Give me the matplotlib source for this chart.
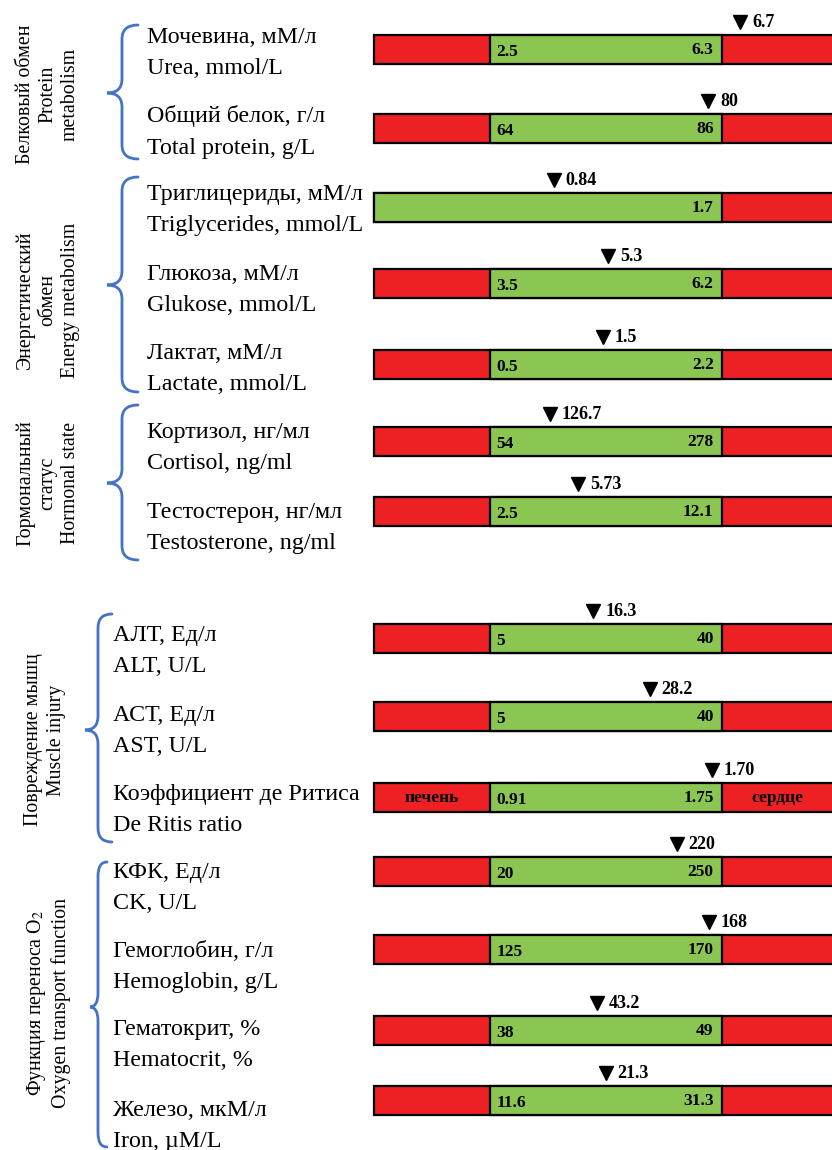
import matplotlib
matplotlib.use('Agg')
import matplotlib.pyplot as plt
from matplotlib.path import Path
from matplotlib.patches import PathPatch

plt.rcParams['font.family'] = ['Liberation Serif', 'DejaVu Serif']
plt.rcParams['mathtext.fontset'] = 'stix'

# ---------------- data ----------------
names_ru = ['Мочевина, мМ/л', 'Общий белок, г/л', 'Триглицериды, мМ/л', 'Глюкоза, мМ/л',
            'Лактат, мМ/л', 'Кортизол, нг/мл', 'Тестостерон, нг/мл',
            'АЛТ, Ед/л', 'АСТ, Ед/л', 'Коэффициент де Ритиса', 'КФК, Ед/л',
            'Гемоглобин, г/л', 'Гематокрит, %', 'Железо, мкМ/л']
names_en = ['Urea, mmol/L', 'Total protein, g/L', 'Triglycerides, mmol/L', 'Glukose, mmol/L',
            'Lactate, mmol/L', 'Cortisol, ng/ml', 'Testosterone, ng/ml',
            'ALT, U/L', 'AST, U/L', 'De Ritis ratio', 'CK, U/L',
            'Hemoglobin, g/L', 'Hematocrit, %', 'Iron, µM/L']
low_labels = ['2.5', '64', None, '3.5', '0.5', '54', '2.5',
              '5', '5', '0.91', '20', '125', '38', '11.6']
high_labels = ['6.3', '86', '1.7', '6.2', '2.2', '278', '12.1',
               '40', '40', '1.75', '250', '170', '49', '31.3']
measured_labels = ['6.7', '80', '0.84', '5.3', '1.5', '126.7', '5.73',
                   '16.3', '28.2', '1.70', '220', '168', '43.2', '21.3']
# position of measured value relative to the normal range (0 = lower limit, 1 = upper limit)
measured_rel = [1.078, 0.94, 0.276, 0.509, 0.487, 0.259, 0.379,
                0.446, 0.688, 0.957, 0.805, 0.944, 0.463, 0.498]
side_left_text = {9: 'печень'}
side_right_text = {9: 'сердце'}

group_labels = ['Белковый обмен\nProtein\nmetabolism',
                'Энергетический\nобмен\nEnergy metabolism',
                'Гормональный\nстатус\nHormonal state',
                'Повреждение мышц\nMuscle injury',
                'Функция переноса O$_2$\nOxygen transport function']

# ---------------- layout (pixels) ----------------
W, H = 832, 1150
bar_y = [49, 128, 207, 283, 364, 441, 511, 638, 716, 797, 871, 949, 1030, 1100]
label_y = [53, 132, 210, 290, 369, 448, 528, 651, 731, 810, 888, 967, 1045, 1126]
label_x = [147] * 7 + [113] * 7
bar_h = 29
# brace: (x_end, x_line, x_tip, y_top, y_mid, y_bot)
braces = [(138, 122, 107, 25, 93, 159),
          (138, 122, 107, 177, 285, 392),
          (138, 122, 107, 405, 483, 560),
          (112, 98, 85, 614, 730, 842),
          (107, 98, 90, 862, 1007, 1147)]
group_pos = [(48, 94), (48, 300), (48, 483), (45, 740), (48, 1003)]

RED = '#ED2024'
GREEN = '#8BC653'
BLUE = '#4472C4'

fig = plt.figure(figsize=(W / 100, H / 100), dpi=100)
ax0 = fig.add_axes([0, 0, 1, 1])
ax0.set_xlim(0, W)
ax0.set_ylim(H, 0)
ax0.axis('off')

# bar axes: x = position relative to normal range (green 490..722 px)
ax = fig.add_axes([0, 0, 1, 1])
ax.set_xlim(-490 / 232, (W - 490) / 232)
ax.set_ylim(H, 0)
ax.axis('off')

for i in range(len(names_ru)):
    y = bar_y[i]
    ax.barh(y, 2.5, left=-0.5, height=bar_h, color=RED, edgecolor='black', linewidth=1.6, zorder=2)
    gl = 0.0 if low_labels[i] is not None else -0.5
    ax.barh(y, 1.0 - gl, left=gl, height=bar_h, color=GREEN, edgecolor='black', linewidth=1.6, zorder=3)
    if low_labels[i] is not None:
        ax.annotate(low_labels[i], (0, y), xytext=(4.5, -5), textcoords='offset points',
                    ha='left', va='baseline', fontsize=12.5, fontweight='bold', zorder=5)
    ax.annotate(high_labels[i], (1, y), xytext=(-6, -3.6), textcoords='offset points',
                ha='right', va='baseline', fontsize=12.5, fontweight='bold', zorder=5)
    my = y - bar_h / 2 - 13
    ax.plot([measured_rel[i]], [my], marker='v', ms=10, color='black', zorder=5)
    ax.annotate(measured_labels[i], (measured_rel[i], my), xytext=(8.5, -4.2), textcoords='offset points',
                ha='left', va='baseline', fontsize=13, fontweight='bold', zorder=5)
    if i in side_left_text:
        ax.annotate(side_left_text[i], (-0.25, y), xytext=(0, -3.5), textcoords='offset points',
                    ha='center', va='baseline', fontsize=12.5, fontweight='bold', zorder=5)
    if i in side_right_text:
        ax.annotate(side_right_text[i], (1.24, y), xytext=(0, -3.5), textcoords='offset points',
                    ha='center', va='baseline', fontsize=12.5, fontweight='bold', zorder=5)
    ax0.text(label_x[i], label_y[i], names_ru[i] + '\n' + names_en[i], ha='left', va='center',
             fontsize=17.3, linespacing=1.65)


def draw_brace(a, x_end, x_line, x_tip, y_top, y_mid, y_bot, r=14):
    verts = [(x_end, y_top),
             (x_line, y_top), (x_line, y_top + r),
             (x_line, y_mid - r),
             (x_line, y_mid), (x_tip, y_mid),
             (x_line, y_mid), (x_line, y_mid + r),
             (x_line, y_bot - r),
             (x_line, y_bot), (x_end, y_bot)]
    codes = [Path.MOVETO,
             Path.CURVE3, Path.CURVE3,
             Path.LINETO,
             Path.CURVE3, Path.CURVE3,
             Path.CURVE3, Path.CURVE3,
             Path.LINETO,
             Path.CURVE3, Path.CURVE3]
    a.add_patch(PathPatch(Path(verts, codes), fill=False, edgecolor=BLUE, lw=2.0, capstyle='round'))


for b in braces:
    draw_brace(ax0, *b)

for (gx, gy), g in zip(group_pos, group_labels):
    ax0.text(gx, gy, g, rotation=90, ha='center', va='center', multialignment='center',
             fontsize=14.3, linespacing=1.25)

fig.savefig('out.png', dpi=100)
